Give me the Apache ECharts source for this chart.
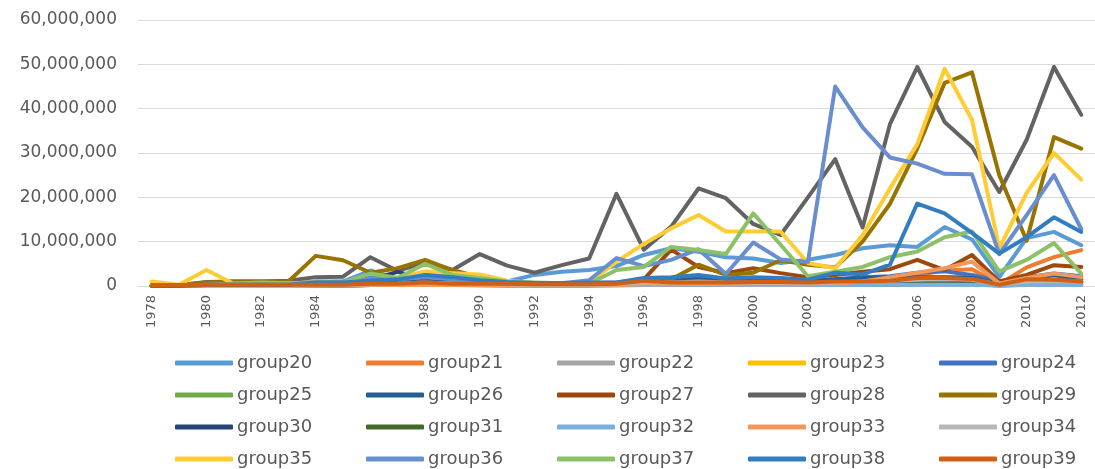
<!DOCTYPE html>
<html>
<head>
<meta charset="utf-8">
<script src="https://cdn.jsdelivr.net/npm/echarts@6/dist/echarts.min.js"></script>
<style>
html,body{margin:0;padding:0;background:#fff;}
#chart{width:1095px;height:469px;}
</style>
</head>
<body>
<div id="chart"></div>
<script>
// Years (categories)
const years = ['1978','1979','1980','1981','1982','1983','1984','1985','1986','1987','1988','1989','1990','1991','1992','1993','1994','1995','1996','1997','1998','1999','2000','2001','2002','2003','2004','2005','2006','2007','2008','2009','2010','2011','2012'];

// Y tick labels (values in millions on the axis)
const yTickLabels = ['0','10,000,000','20,000,000','30,000,000','40,000,000','50,000,000','60,000,000'];

// Series values, in millions
const group20 = [0,0,0.3,0.4,0.4,0.5,1.0,1.0,3.5,1.5,3.0,2.0,1.5,1.0,2.5,3.2,3.6,4.5,7.0,8.5,7.7,6.5,6.2,5.2,5.9,7.0,8.5,9.2,8.8,13.3,10.5,2.0,10.8,12.2,9.2];
const group21 = [0,0,0,0,0,0,0,0,0.2,0.2,0.3,0.3,0.3,0.3,0.3,0.3,0.3,0.3,0.8,0.6,0.6,0.6,0.6,0.6,0.5,0.6,0.8,1.5,2.5,3.5,3.8,0.4,4.2,6.5,8.1];
const group22 = [0,0,0.1,0.2,0.2,0.2,0.4,0.4,0.8,1.0,1.5,1.0,0.8,0.5,0.5,0.5,0.5,0.6,1.5,1.2,1.5,1.2,1.2,1.0,1.0,1.0,1.3,1.5,1.8,2.0,2.0,0.5,1.2,1.5,1.3];
const group23 = [0.2,0.1,0.3,0.2,0.2,0.2,0.3,0.3,0.5,0.5,0.6,0.5,0.5,0.4,0.4,0.4,0.4,0.5,0.6,0.6,0.7,0.6,0.6,0.6,0.5,0.6,0.8,0.9,1.0,1.0,1.0,0.4,0.8,0.9,0.8];
const group24 = [0,0,0.2,0.2,0.2,0.3,0.5,0.5,1.0,1.0,1.5,1.2,0.8,0.6,0.6,0.6,0.6,0.8,1.5,1.5,1.8,1.5,1.8,1.6,1.2,1.5,2.0,2.2,3.0,3.3,2.5,1.0,2.0,2.8,2.2];
const group25 = [0,0,0.2,0.3,0.3,0.3,0.5,0.5,1.0,0.8,1.2,0.8,0.6,0.5,0.5,0.5,0.5,0.6,1.0,1.2,1.2,1.0,1.2,1.0,0.8,1.0,1.2,1.3,1.5,1.6,1.5,0.5,1.0,1.3,1.0];
const group26 = [0,0,0,0.2,0.2,0.2,0.5,0.5,0.8,0.8,1.0,0.8,0.6,0.5,0.5,0.5,0.5,0.6,1.2,1.2,1.5,1.2,1.5,1.3,1.0,1.5,1.8,2.0,2.0,2.0,1.8,0.5,1.5,2.5,1.5];
const group27 = [0,0,0,0,0,0,0.3,0.3,0.5,0.5,0.8,0.6,0.5,0.5,0.3,0.3,0.3,0.5,1.5,8.2,4.3,2.9,4.0,2.9,2.0,2.5,3.2,3.8,5.9,3.6,7.0,1.0,2.5,4.7,4.3];
const group28 = [0.1,0.2,0.9,1.0,1.0,1.2,2.0,2.1,6.5,3.4,5.3,3.6,7.2,4.6,3.0,4.7,6.2,20.8,8.2,13.4,22.0,19.8,14.0,11.5,20.0,28.6,13.2,36.5,49.4,37.0,31.4,21.2,33.0,49.4,38.6];
const group29 = [0,0.2,0.8,1.0,1.0,1.0,6.8,5.8,3.0,4.0,5.9,3.6,2.0,1.0,0.5,0.4,0.4,0.5,0.8,1.5,4.8,2.5,3.0,5.8,4.8,4.2,10.0,18.5,31.0,45.8,48.2,25.0,10.2,33.6,31.0];
const group30 = [0,0,0,0,0,0,0.3,0.5,1.5,3.2,1.5,0.8,0.5,0.4,0.3,0.3,0.3,0.3,0.5,0.5,0.6,0.5,0.6,0.6,0.5,0.6,0.8,1.0,1.2,1.2,1.0,0.4,0.8,1.0,0.8];
const group31 = [0,0,0,0,0,0,0.1,0.1,0.2,0.2,0.3,0.2,0.2,0.1,0.1,0.1,0.1,0.2,0.3,0.3,0.3,0.3,0.3,0.3,0.2,0.3,0.3,0.3,0.4,0.4,0.4,0.1,0.3,0.3,0.3];
const group32 = [0,0,0,0,0,0,0.1,0.1,0.2,0.2,0.2,0.2,0.1,0.1,0.1,0.1,0.1,0.1,0.2,0.2,0.2,0.2,0.2,0.2,0.2,0.2,0.2,0.3,0.3,0.3,0.3,0.1,0.2,0.3,0.2];
const group33 = [0,0,0,0,0,0,0.1,0.1,0.2,0.2,0.3,0.2,0.2,0.2,0.2,0.2,0.2,0.2,0.4,0.4,0.4,0.4,0.4,0.4,0.4,0.5,1.0,2.0,3.0,4.0,5.5,0.6,1.8,2.8,2.0];
const group34 = [0,0,0,0.1,0.1,0.1,0.2,0.2,0.4,0.5,0.8,0.6,0.5,0.4,0.3,0.3,0.3,0.4,0.8,0.8,1.0,0.8,0.8,0.8,0.7,0.8,1.0,1.2,1.4,1.5,1.4,0.4,1.0,1.2,1.0];
const group35 = [1.0,0.3,3.6,0.5,0.6,0.6,0.8,0.8,1.5,2.0,3.3,2.9,2.6,1.2,0.6,0.6,0.8,5.5,9.5,13.0,16.0,12.3,12.3,12.3,5.2,4.0,11.5,22.0,32.0,49.0,37.5,8.5,21.0,30.0,24.0];
const group36 = [0,0,0.3,0.5,0.5,0.5,0.8,1.0,2.0,1.5,2.0,1.5,0.8,0.5,0.5,0.6,1.3,6.3,4.5,5.9,8.3,2.7,9.8,6.0,5.4,45.0,35.8,29.0,27.6,25.3,25.2,7.2,16.0,25.0,12.8];
const group37 = [0,0,0.2,0.5,0.8,0.6,0.8,0.8,2.8,1.8,5.0,2.5,1.8,1.0,0.8,0.6,0.5,3.6,4.3,8.8,8.1,7.2,16.4,9.3,2.2,3.2,4.3,6.5,7.8,11.0,12.3,3.3,5.9,9.7,2.8];
const group38 = [0,0,0.2,0.3,0.3,0.3,0.8,0.8,1.2,1.5,2.5,2.0,1.3,0.9,0.7,0.7,0.8,0.8,1.8,2.0,2.5,1.7,2.0,1.8,1.4,3.0,2.6,4.8,18.6,16.4,12.0,7.3,11.0,15.5,12.2];
const group39 = [0.2,0.2,0.3,0.3,0.3,0.3,0.3,0.3,0.5,0.5,0.8,0.5,0.5,0.5,0.4,0.4,0.4,0.5,1.2,0.8,0.8,0.8,0.9,0.9,0.8,1.0,1.0,1.2,1.8,1.8,1.6,0.3,1.5,1.4,1.0];

const seriesNames = ['group20','group21','group22','group23','group24','group25','group26','group27','group28','group29','group30','group31','group32','group33','group34','group35','group36','group37','group38','group39'];
const seriesData = [group20,group21,group22,group23,group24,group25,group26,group27,group28,group29,group30,group31,group32,group33,group34,group35,group36,group37,group38,group39];
const seriesColors = ['#5B9BD5','#ED7D31','#A5A5A5','#FFC000','#4472C4','#70AD47','#255E91','#9E480E','#636363','#997300','#264478','#43682B','#7CAFDD','#F1975A','#B7B7B7','#FFCD33','#698ED0','#8CC168','#327DC2','#D26012'];

const FONT = '"DejaVu Sans", sans-serif';
const chart = echarts.init(document.getElementById('chart'));
chart.setOption({
  animation: false,
  backgroundColor: '#ffffff',
  color: seriesColors,
  grid: { left: 138, right: -2, top: 20, bottom: 183, containLabel: false },
  xAxis: {
    type: 'category',
    data: years,
    boundaryGap: true,
    axisLine: { show: true, lineStyle: { color: '#D9D9D9', width: 1 } },
    axisTick: { show: false },
    axisLabel: { rotate: 90, interval: 1, color: '#595959', fontSize: 13, fontFamily: FONT, margin: 9 }
  },
  yAxis: {
    type: 'value',
    min: 0, max: 60, interval: 10,
    axisLine: { show: false },
    axisTick: { show: false },
    splitLine: { lineStyle: { color: '#D9D9D9', width: 1 } },
    axisLabel: {
      color: '#595959', fontSize: 17, fontFamily: FONT, margin: 21,
      formatter: function (v) { return yTickLabels[Math.round(v / 10)]; }
    }
  },
  legend: {
    show: true,
    left: 170, top: 348, width: 960,
    orient: 'horizontal',
    icon: 'roundRect',
    itemWidth: 58, itemHeight: 5,
    itemGap: 12,
    textStyle: { color: '#595959', fontSize: 18, fontFamily: FONT, width: 117, lineHeight: 20, padding: [0, 0, 0, -1] },
    data: seriesNames
  },
  series: seriesNames.map(function (name, i) {
    return {
      name: name,
      type: 'line',
      data: seriesData[i],
      symbol: 'none',
      smooth: false,
      lineStyle: { width: 4, color: seriesColors[i], cap: 'round', join: 'round' },
      itemStyle: { color: seriesColors[i] }
    };
  })
});
</script>
</body>
</html>
